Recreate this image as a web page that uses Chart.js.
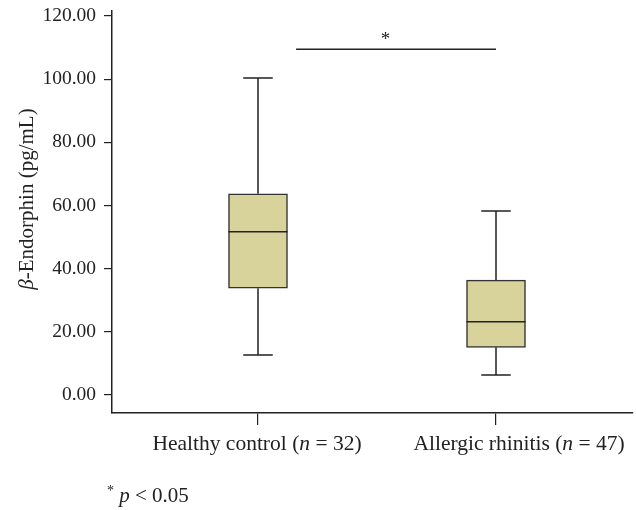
<!DOCTYPE html>
<html><head><meta charset="utf-8">
<script src="https://cdn.jsdelivr.net/npm/chart.js@4/dist/chart.umd.min.js"></script>
<style>html,body{margin:0;padding:0;background:#fff}#wrap{width:636px;height:510px;position:relative}</style>
</head><body><div id="wrap"><canvas id="c"></canvas></div>
<script>
// ---- data ----
const categories = ['Healthy control', 'Allergic rhinitis'];
const sampleSizes = [32, 47];
const minValues = [12.7, 6.3];
const q1Values = [33.8, 15.1];
const medianValues = [51.7, 23.2];
const q3Values = [63.7, 36.4];
const maxValues = [100.4, 58.3];
const yTickValues = [0, 20, 40, 60, 80, 100, 120];
const sigSpan = [1.16, 2];      // x-range of significance bar (category units)
const sigLevel = [109.5];       // y value of significance bar
const sigLabelAt = [1.536];     // x of the asterisk (category units)
const sigLabel = '*';

const SERIF = '"Liberation Serif", "DejaVu Serif", serif';
const INK = '#222';
const LABEL_SHIFT = [-1, 23];   // px nudge of each category label (style)
const positions = categories.map((_, i) => i + 1);

const boxPlugin = {
  id: 'boxExtras',
  afterDatasetsDraw(chart) {
    const {ctx, scales: {x, y}} = chart;
    const meta = chart.getDatasetMeta(0);
    ctx.save();
    ctx.strokeStyle = INK;
    ctx.lineWidth = 1.5;
    positions.forEach((p, i) => {
      const xc = x.getPixelForValue(p);
      const bw = meta.data[i].width;
      const cap = bw * 0.5;
      ctx.beginPath();
      ctx.moveTo(xc, y.getPixelForValue(maxValues[i]));
      ctx.lineTo(xc, y.getPixelForValue(q3Values[i]));
      ctx.moveTo(xc, y.getPixelForValue(q1Values[i]));
      ctx.lineTo(xc, y.getPixelForValue(minValues[i]));
      ctx.moveTo(xc - cap / 2, y.getPixelForValue(maxValues[i]));
      ctx.lineTo(xc + cap / 2, y.getPixelForValue(maxValues[i]));
      ctx.moveTo(xc - cap / 2, y.getPixelForValue(minValues[i]));
      ctx.lineTo(xc + cap / 2, y.getPixelForValue(minValues[i]));
      ctx.moveTo(xc - bw / 2, y.getPixelForValue(medianValues[i]));
      ctx.lineTo(xc + bw / 2, y.getPixelForValue(medianValues[i]));
      ctx.stroke();
    });
    // significance asterisk
    ctx.fillStyle = INK;
    ctx.font = '19px ' + SERIF;
    ctx.textAlign = 'center';
    ctx.textBaseline = 'alphabetic';
    ctx.fillText(sigLabel, x.getPixelForValue(sigLabelAt[0]), y.getPixelForValue(sigLevel[0]) - 4);
    ctx.restore();
  },
  afterDraw(chart) {
    const {ctx, scales: {x}} = chart;
    ctx.save();
    ctx.fillStyle = INK;
    ctx.textBaseline = 'alphabetic';
    function drawRuns(runs, startX, baseY) {
      let cx = startX;
      runs.forEach(r => {
        ctx.font = r.f;
        ctx.fillText(r.t, cx, baseY + (r.dy || 0));
        cx += ctx.measureText(r.t).width;
      });
    }
    function runsWidth(runs) {
      let w = 0;
      runs.forEach(r => { ctx.font = r.f; w += ctx.measureText(r.t).width; });
      return w;
    }
    const reg = '21.5px ' + SERIF, ita = 'italic 21.5px ' + SERIF;
    ctx.textAlign = 'left';
    // x category labels
    positions.forEach((p, i) => {
      const runs = [
        {t: categories[i] + ' (', f: reg},
        {t: 'n', f: ita},
        {t: ' = ' + sampleSizes[i] + ')', f: reg}
      ];
      const w = runsWidth(runs);
      drawRuns(runs, x.getPixelForValue(p) - w / 2 + LABEL_SHIFT[i], 450);
    });
    // y title
    ctx.save();
    ctx.translate(27, 199);
    ctx.rotate(-Math.PI / 2);
    const tReg = '21px ' + SERIF, tIta = 'italic 21px ' + SERIF;
    const yr = [
      {t: 'β', f: tIta},
      {t: '-Endorphin (pg/mL)', f: tReg}
    ];
    drawRuns(yr, -runsWidth(yr) / 2, 6);
    ctx.restore();
    // footnote
    drawRuns([
      {t: '*', f: '14px ' + SERIF, dy: -7},
      {t: ' p', f: 'italic 21px ' + SERIF},
      {t: ' < 0.05', f: '21px ' + SERIF}
    ], 107, 502);
    ctx.restore();
  }
};

new Chart(document.getElementById('c'), {
  type: 'bar',
  data: {
    datasets: [
      {
        type: 'bar',
        data: positions.map((p, i) => ({x: p, y: [q1Values[i], q3Values[i]]})),
        backgroundColor: '#d8d39a',
        borderColor: '#333',
        borderWidth: 1.5,
        borderSkipped: false,
        barThickness: 59
      },
      {
        type: 'line',
        data: sigSpan.map(v => ({x: v, y: sigLevel[0]})),
        borderColor: INK,
        borderWidth: 1.5,
        pointRadius: 0,
        fill: false
      }
    ]
  },
  options: {
    responsive: true,
    maintainAspectRatio: false,
    animation: false,
    layout: {padding: {top: 11, right: 3, bottom: 0, left: 0}},
    plugins: {legend: {display: false}, tooltip: {enabled: false}},
    scales: {
      x: {
        type: 'linear',
        offset: false,
        min: 0.3866,
        max: 2.5756,
        afterBuildTicks: s => { s.ticks = positions.map(v => ({value: v})); },
        afterFit: s => { s.height = 97; s.paddingLeft = 0; s.paddingRight = 0; },
        grid: {offset: false, drawOnChartArea: false, drawTicks: true, tickLength: 12, color: INK, lineWidth: 1.2},
        border: {display: true, color: INK, width: 1.5},
        ticks: {display: false}
      },
      y: {
        min: -5.7,
        max: 121.6,
        afterBuildTicks: s => { s.ticks = yTickValues.map(v => ({value: v})); },
        afterFit: s => { s.width = 112; s.paddingTop = 0; s.paddingBottom = 0; },
        grid: {drawOnChartArea: false, drawTicks: true, tickLength: 8, color: INK, lineWidth: 1.2},
        border: {display: true, color: INK, width: 1.5},
        ticks: {
          color: INK,
          padding: 8,
          font: {family: SERIF, size: 19.5, lineHeight: 1},
          callback: v => Number(v).toFixed(2)
        }
      }
    }
  },
  plugins: [boxPlugin]
});
</script>
</body></html>
